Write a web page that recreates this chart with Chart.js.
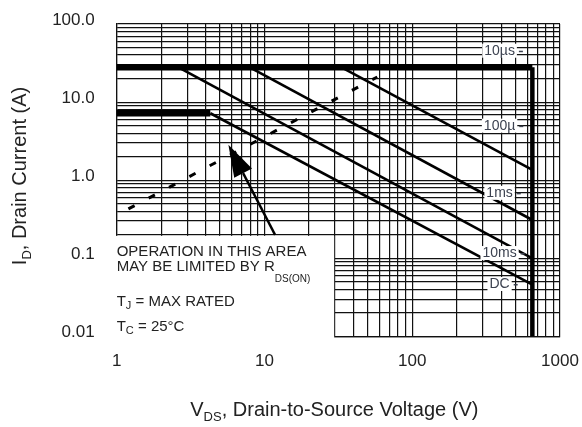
<!DOCTYPE html>
<html>
<head>
<meta charset="utf-8">
<script src="https://cdn.jsdelivr.net/npm/chart.js@4.4.1/dist/chart.umd.min.js"></script>
<style>
html,body{margin:0;padding:0;background:#fff}
#wrap{width:582px;height:427px;position:relative}
</style>
</head>
<body>
<div id="wrap"><canvas id="soa"></canvas></div>
<script>
// axis decades and their printed labels
const xDecades = [1, 10, 100, 1000];
const xTickLabels = ['1', '10', '100', '1000'];
const yDecades = [0.01, 0.1, 1, 10, 100];
const yTickLabels = ['0.01', '0.1', '1.0', '10.0', '100.0'];

// limit lines, [V_DS, I_D]
const pulseLimit = [[1, 28], [650, 28]];
const voltageLimit = [[650, 28], [650, 0.01]];
const limit100us = [[33, 28], [650, 1.36]];
const limit1ms = [[7.9, 28], [650, 0.31]];
const limit10ms = [[2.6, 28], [650, 0.1]];
const dcFlat = [[1, 7.2], [4.3, 7.2]];
const dcSlope = [[4.3, 7.2], [650, 0.046]];
const rdsOn = [[1.2, 0.43], [58, 21]];

// curve names and the current where each name sits
const curveNames = ['10\u00b5s', '100\u00b5', '1ms', '10ms', 'DC'];
const curveNameI = [45.5, 5.0, 0.69, 0.117, 0.047];

// arrow from the note up to the R_DS(on) line
const arrowTip = [5.7, 2.85];
const arrowTail = [11.8, 0.2];

const FONT = '"Liberation Sans", Arial, sans-serif';
const INK = '#222';

function gridValues(decades) {
  const out = [];
  decades.forEach((d, i) => {
    if (i === decades.length - 1) { out.push(d); return; }
    for (let k = 1; k <= 9; k++) out.push(+(d * k).toPrecision(3));
  });
  return out;
}
function labelFor(v, decades, labels) {
  const i = decades.findIndex(d => Math.abs(d - v) / d < 1e-6);
  return i < 0 ? '' : labels[i];
}
function pts(arr) { return arr.map(p => ({x: p[0], y: p[1]})); }
function line(arr, width, dash) {
  return {
    data: pts(arr), showLine: true, borderColor: '#000', borderWidth: width,
    borderDash: dash || [], pointRadius: 0, fill: false, borderCapStyle: 'butt'
  };
}

// draws text pieces one after another: [text, size, dy]
function drawParts(ctx, x, y, parts, align) {
  let w = 0;
  parts.forEach(p => { ctx.font = p[1] + 'px ' + FONT; w += ctx.measureText(p[0]).width; });
  if (align === 'center') x -= w / 2;
  ctx.textAlign = 'left';
  ctx.textBaseline = 'middle';
  parts.forEach(p => {
    ctx.font = p[1] + 'px ' + FONT;
    ctx.fillText(p[0], x, y + p[2]);
    x += ctx.measureText(p[0]).width;
  });
  return w;
}

const soaText = {
  id: 'soaText',
  beforeDatasetsDraw(chart) {
    const {ctx, chartArea: a, scales: {x, y}} = chart;
    // note area bottom-left has no grid
    const top = y.getPixelForValue(0.2) + 1;
    const right = x.getPixelForValue(30) - 0.8;
    ctx.save();
    ctx.fillStyle = '#fff';
    ctx.fillRect(a.left - 3, top, right - a.left + 3, a.bottom + 4 - top);
    ctx.restore();
  },
  afterDatasetsDraw(chart) {
    const {ctx, chartArea: a, scales: {x, y}} = chart;
    ctx.save();

    // curve names with white boxes
    const cx = x.getPixelForValue(390);
    ctx.font = '14px ' + FONT;
    curveNames.forEach((n, i) => {
      const cy = y.getPixelForValue(curveNameI[i]);
      const w = ctx.measureText(n).width;
      ctx.fillStyle = '#fff';
      ctx.fillRect(cx - w / 2 - 2, cy - 7, w + 4, 14);
      ctx.fillStyle = '#3c4250';
      ctx.textAlign = 'center';
      ctx.textBaseline = 'middle';
      ctx.fillText(n, cx, cy);
      ctx.fillRect(cx + w / 2 + 4, cy, 4, 1.5);
    });

    // arrow
    const tx = x.getPixelForValue(arrowTip[0]), ty = y.getPixelForValue(arrowTip[1]);
    const ex = x.getPixelForValue(arrowTail[0]), ey = y.getPixelForValue(arrowTail[1]);
    const len = Math.hypot(ex - tx, ey - ty), ux = (ex - tx) / len, uy = (ey - ty) / len;
    const bx = tx + ux * 32, by = ty + uy * 32;
    ctx.strokeStyle = '#000';
    ctx.lineWidth = 2.4;
    ctx.beginPath(); ctx.moveTo(bx, by); ctx.lineTo(ex, ey); ctx.stroke();
    ctx.fillStyle = '#000';
    ctx.beginPath();
    ctx.moveTo(tx, ty);
    ctx.lineTo(bx - uy * 10, by + ux * 10);
    ctx.lineTo(bx + uy * 10, by - ux * 10);
    ctx.closePath(); ctx.fill();

    // note text
    ctx.fillStyle = INK;
    const lx = a.left;
    drawParts(ctx, lx, a.bottom - 85, [['OPERATION IN THIS AREA', 15, 0]]);
    drawParts(ctx, lx, a.bottom - 69.5, [['MAY BE LIMITED BY R', 15, 0], ['DS(ON)', 10, 12]]);
    drawParts(ctx, lx, a.bottom - 35, [['T', 15, 0], ['J', 11, 4], [' = MAX RATED', 15, 0]]);
    drawParts(ctx, lx, a.bottom - 10, [['T', 15, 0], ['C', 11, 4], [' = 25\u00b0C', 15, 0]]);

    // axis titles
    drawParts(ctx, (a.left + a.right) / 2 - 4, 410,
      [['V', 20, 0], ['DS', 13, 7], [', Drain-to-Source Voltage (V)', 20, 0]], 'center');
    ctx.translate(20, 176);
    ctx.rotate(-Math.PI / 2);
    drawParts(ctx, 0, 0, [['I', 20, 0], ['D', 13, 7], [', Drain Current (A)', 20, 0]], 'center');
    ctx.restore();
  }
};

const gridOpts = { color: '#111', lineWidth: 1.2, drawTicks: false };
const borderOpts = { display: true, color: '#111', width: 1.2 };
function noPad(s) { s.paddingLeft = 0; s.paddingRight = 0; s.paddingTop = 0; s.paddingBottom = 0; }

new Chart(document.getElementById('soa'), {
  type: 'scatter',
  data: {
    datasets: [
      line(pulseLimit, 6.5),
      line(voltageLimit, 4.5),
      line(limit100us, 2.6),
      line(limit1ms, 2.6),
      line(limit10ms, 2.6),
      line(dcFlat, 6.5),
      line(dcSlope, 2.6),
      line(rdsOn, 3, [7, 16])
    ]
  },
  options: {
    responsive: true,
    maintainAspectRatio: false,
    animation: false,
    layout: { padding: { left: 0, right: 22, top: 24, bottom: 0 } },
    plugins: { legend: { display: false }, tooltip: { enabled: false } },
    scales: {
      x: {
        type: 'logarithmic', min: 1, max: 1000,
        afterBuildTicks: s => { s.ticks = gridValues(xDecades).map(v => ({value: v})); },
        afterFit: s => { s.height = 90.5; noPad(s); },
        grid: gridOpts, border: borderOpts,
        ticks: {
          autoSkip: false, maxRotation: 0, padding: 15, color: INK,
          font: { family: FONT, size: 17 },
          callback: v => labelFor(v, xDecades, xTickLabels)
        }
      },
      y: {
        type: 'logarithmic', min: 0.01, max: 100,
        afterBuildTicks: s => { s.ticks = gridValues(yDecades).map(v => ({value: v})); },
        afterFit: s => { s.width = 116.7; noPad(s); },
        grid: gridOpts, border: borderOpts,
        ticks: {
          autoSkip: false, padding: 22, labelOffset: -4, color: INK,
          font: { family: FONT, size: 17 },
          callback: v => labelFor(v, yDecades, yTickLabels)
        }
      }
    }
  },
  plugins: [soaText]
});
</script>
</body>
</html>
